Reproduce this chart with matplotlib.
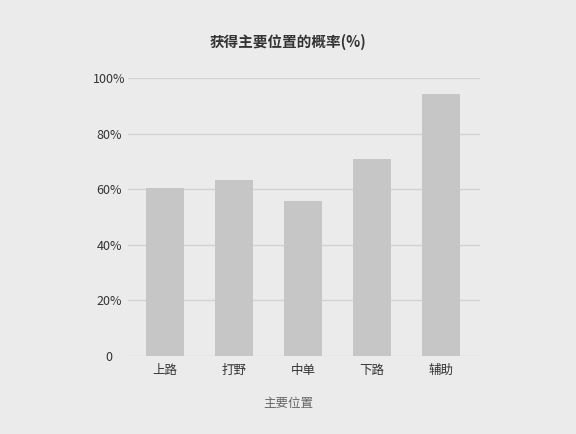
import matplotlib
matplotlib.use('Agg')
import matplotlib.pyplot as plt
from matplotlib.ticker import FuncFormatter

plt.rcParams['font.family'] = ['Noto Sans CJK SC', 'DejaVu Sans']

# data
positions = ['上路', '打野', '中单', '下路', '辅助']
probability = [60.5, 63.5, 55.8, 70.8, 94.4]
y_ticks = [0, 20, 40, 60, 80, 100]

bg = '#ebebeb'
fig = plt.figure(figsize=(5.76, 4.34), dpi=100, facecolor=bg)
ax = fig.add_axes([0.222, 0.180, 0.611, 0.640], facecolor=bg)

ax.bar(range(len(positions)), probability, width=0.56, color='#c6c6c6', zorder=2)

ax.set_xlim(-0.54, 4.56)
ax.set_ylim(0, 100)
ax.set_yticks(y_ticks)
ax.yaxis.set_major_formatter(FuncFormatter(lambda v, p: '0' if v == 0 else f'{v:.0f}%'))
ax.set_xticks(range(len(positions)))
ax.set_xticklabels(positions)

ax.grid(axis='y', color='#d2d2d2', linewidth=1, zorder=0)
for s in ax.spines.values():
    s.set_visible(False)
ax.tick_params(axis='both', length=0, labelsize=9, colors='#333333')
ax.tick_params(axis='y', pad=13.5)
ax.tick_params(axis='x', pad=6)
for lbl in ax.get_yticklabels():
    lbl.set_horizontalalignment('center')

# axis title sits at the figure centre, same as the main title
fig.text(0.5, 1 - 403 / 434, '主要位置', ha='center', va='center',
         fontsize=9, color='#666666')
fig.text(0.5, 1 - 42 / 434, '获得主要位置的概率(%)', ha='center', va='center',
         fontsize=10.5, fontweight='bold', color='#333333')

fig.savefig('out.png', dpi=100, facecolor=bg)
